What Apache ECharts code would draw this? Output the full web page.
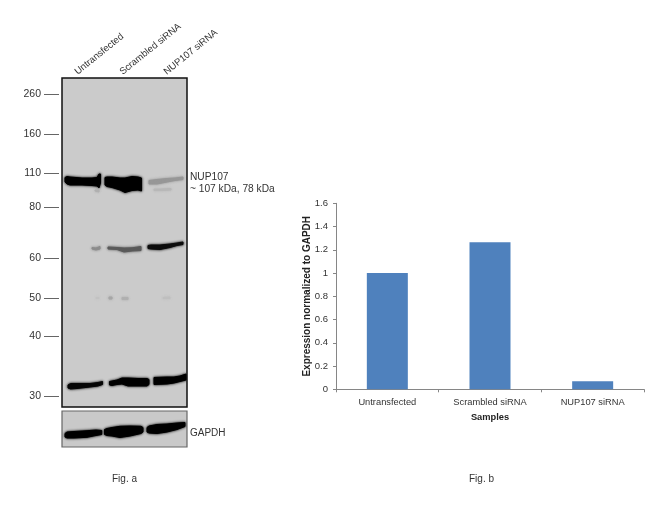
<!DOCTYPE html>
<html>
<head>
<meta charset="utf-8">
<style>html,body{margin:0;padding:0;background:#fff}#c{width:650px;height:516px}</style>
<script src="https://cdn.jsdelivr.net/npm/echarts@6/dist/echarts.min.js"></script>
</head>
<body>
<div id="c"></div>
<script>
// Fig. b data
const samples = ['Untransfected', 'Scrambled siRNA', 'NUP107 siRNA'];
const expression = [1, 1.265, 0.07];

// Fig. a: ladder, kDa and migration distance along the gel
const ladderKDa = [260, 160, 110, 80, 60, 50, 40, 30];
const ladderMigration = [16, 56, 95, 129, 180, 220, 258, 318];
const laneLabelAt = [14, 59, 103];

// Fig. a: bands, each a list of [lane position, upper migration, lower migration]
const bandNup1 = [[3,99.5,104],[5,98.5,106],[8,99,107],[20,100,107],[30,100,107.5],[35,99.5,108],[37,96,110],[38.5,96,105]];
const bandNup2 = [[43,99.5,107],[45,99,108.5],[50,99,109.5],[58,100,112],[63,100,114.5],[70,98.5,112.5],[76,99,112],[79.5,100,113]];
const bandNup3 = [[87,102.5,106],[95,101.5,106],[105,100.5,104],[113,100,102.5],[121,99,101.5]];
const bandNup3b = [[92,111,112.5],[100,111,112.5],[109,110.5,112]];
const bandNup2b = [[33,112,113],[37,112,114]];
const band78a = [[30,169.5,171],[34,170,172],[38,168.5,171]];
const band78b = [[46,169,171],[55,169.5,171.5],[62,170,174],[70,169.8,173],[79,168.5,172.5]];
const band78c = [[86,167.5,170.5],[89,167,171],[98,167,171.5],[108,166,169.5],[115,165,167.5],[121,164,166.5]];
const speckA = [[34,219.5,220.5],[37,219.5,220.5]];
const speckB = [[47,219,221],[50,219,221]];
const speckC = [[60,219.5,221.5],[66,219.5,221.5]];
const speckD = [[101,219.5,220.5],[108,219,220.5]];
const band30a = [[6,307,310],[8.5,305.5,311],[15,305.5,310.5],[28,305.5,309],[36,304.5,308],[40.5,303.5,306.5]];
const band30b = [[47.5,303.5,307],[50,303,307.5],[55,302,306.5],[60,300,306],[66,300,308],[76,300.5,308],[85,300.5,308],[87,301.5,306.5]];
const band30c = [[92,299.5,306.5],[105,299,306],[112,299,305],[118,298,303.5],[124,296,302]];
const bandGapdh1 = [[3,22.5,26],[5,21,27],[12,20.5,27],[25,19.7,26.3],[34,19,24.5],[39.7,19.5,23.5]];
const bandGapdh2 = [[42.5,18.5,23.5],[45,17.5,24.5],[50,16.5,25],[58,15.3,26.5],[68,15,25],[79,15.3,22.5],[81,16.5,21]];
const bandGapdh3 = [[85,16.5,21],[87,15,22],[95,13.5,22.5],[105,13,21],[115,12,18.5],[123,11.5,15.5]];

const gelBands = [
  [bandNup1, '#000000'], [bandNup2, '#000000'], [bandNup3, '#979797'],
  [bandNup3b, '#b8b8b8'], [bandNup2b, '#b0b0b0'],
  [band78a, '#8c8c8c'], [band78b, '#5a5a5a'], [band78c, '#0c0c0c'],
  [speckA, '#c2c2c2'], [speckB, '#a6a6a6'], [speckC, '#b0b0b0'], [speckD, '#bfbfbf'],
  [band30a, '#050505'], [band30b, '#000000'], [band30c, '#000000']
];
const gapdhBands = [[bandGapdh1, '#000000'], [bandGapdh2, '#000000'], [bandGapdh3, '#000000']];

const FONT = '"Liberation Sans", Arial, sans-serif';
const INK = '#333333';

function bandSeries(list, axisIndex) {
  return {
    type: 'custom',
    xAxisIndex: axisIndex,
    yAxisIndex: axisIndex,
    silent: true,
    clip: true,
    data: list.map(b => [b[0][0][0], b[0][0][1]]),
    renderItem: function (params, api) {
      const band = list[params.dataIndex];
      const upper = band[0].map(p => api.coord([p[0], p[1]]));
      const lower = band[0].map(p => api.coord([p[0], p[2]])).reverse();
      return {
        type: 'polygon',
        shape: { points: upper.concat(lower) },
        style: { fill: band[1], stroke: band[1], lineWidth: 1, lineJoin: 'round', shadowBlur: 2.5, shadowColor: band[1] }
      };
    }
  };
}

function textBlock(text, left, top, size) {
  return {
    text: text, left: left, top: top, padding: 0,
    textStyle: { fontFamily: FONT, fontSize: size, fontWeight: 'normal', color: INK }
  };
}

const chart = echarts.init(document.getElementById('c'), null, { renderer: 'canvas' });
chart.setOption({
  animation: false,
  backgroundColor: '#ffffff',
  title: [
    textBlock('NUP107', 190, 172, 10.2),
    textBlock('~ 107 kDa, 78 kDa', 190, 184, 10.2),
    textBlock('GAPDH', 190, 428, 10),
    textBlock('Fig. a', 112, 474, 10),
    textBlock('Fig. b', 469, 474, 10)
  ],
  grid: [
    { left: 62, top: 78, width: 125, height: 329, show: true, backgroundColor: '#cbcbcb', borderColor: '#111111', borderWidth: 1.5 },
    { left: 62, top: 411, width: 125, height: 36, show: true, backgroundColor: '#c9c9c9', borderColor: '#666666', borderWidth: 1.2 },
    { left: 336, top: 203.3, width: 308, height: 186 },
    { left: 59, top: 78, width: 1, height: 329 }
  ],
  xAxis: [
    {
      gridIndex: 0, type: 'value', position: 'top', min: 0, max: 125,
      splitLine: { show: false }, axisLine: { show: false }, axisTick: { show: false },
      axisLabel: {
        customValues: laneLabelAt, rotate: 39, margin: 5,
        fontFamily: FONT, fontSize: 9.6, color: INK,
        formatter: v => samples[laneLabelAt.indexOf(v)]
      }
    },
    { gridIndex: 1, type: 'value', min: 0, max: 125, show: false },
    {
      gridIndex: 2, type: 'category', data: samples,
      name: 'Samples', nameLocation: 'middle', nameGap: 24, nameMoveOverlap: false,
      nameTextStyle: { fontFamily: FONT, fontSize: 9.3, fontWeight: 'bold', color: '#222222' },
      axisLine: { lineStyle: { color: '#868686' } },
      axisTick: { show: true, length: 3, lineStyle: { color: '#868686' } },
      axisLabel: { fontFamily: FONT, fontSize: 9.3, color: INK, margin: 9, interval: 0 }
    },
    { gridIndex: 3, type: 'value', min: 0, max: 1, show: false }
  ],
  yAxis: [
    { gridIndex: 0, type: 'value', inverse: true, min: 0, max: 329, show: false },
    { gridIndex: 1, type: 'value', inverse: true, min: 0, max: 36, show: false },
    {
      gridIndex: 2, type: 'value', min: 0, max: 1.6, interval: 0.2,
      name: 'Expression normalized to GAPDH', nameLocation: 'middle', nameGap: 23.5, nameMoveOverlap: false,
      nameTextStyle: { fontFamily: FONT, fontSize: 10, fontWeight: 'bold', color: '#222222' },
      splitLine: { show: false },
      axisLine: { show: true, lineStyle: { color: '#868686' } },
      axisTick: { show: true, length: 3, lineStyle: { color: '#868686' } },
      axisLabel: { fontFamily: FONT, fontSize: 9.5, color: INK, margin: 8, formatter: v => String(+v.toFixed(1)) }
    },
    {
      gridIndex: 3, type: 'value', inverse: true, min: 0, max: 329,
      splitLine: { show: false }, axisLine: { show: false },
      axisTick: { show: true, customValues: ladderMigration, length: 15, lineStyle: { color: '#666666', width: 1 } },
      axisLabel: {
        customValues: ladderMigration, margin: 18,
        fontFamily: FONT, fontSize: 10.5, color: INK,
        formatter: v => String(ladderKDa[ladderMigration.indexOf(v)])
      }
    }
  ],
  series: [
    bandSeries(gelBands, 0),
    bandSeries(gapdhBands, 1),
    {
      type: 'bar', xAxisIndex: 2, yAxisIndex: 2, data: expression,
      barWidth: 41, itemStyle: { color: '#4f81bd' }, silent: true
    }
  ]
});
</script>
</body>
</html>
